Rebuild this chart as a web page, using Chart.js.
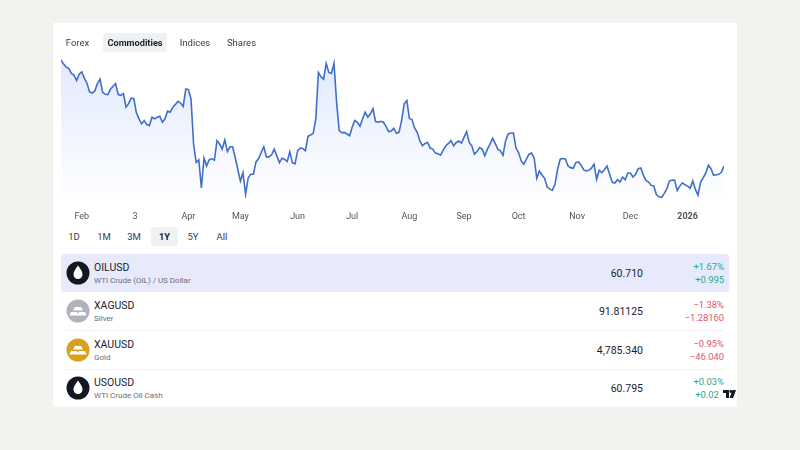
<!DOCTYPE html>
<html>
<head>
<meta charset="utf-8">
<title>Commodities</title>
<script src="https://cdn.jsdelivr.net/npm/chart.js@4"></script>
<style>
    html, body { margin: 0; padding: 0; background: #f2f3ee; }
    body { width: 800px; height: 450px; overflow: hidden; position: relative; font-family: Roboto, sans-serif; color: #1e222d; }
    .card { position: absolute; left: 53px; top: 23px; width: 684px; height: 384px; background: #fff; }
    .pill { position: absolute; font-size: 9.5px; line-height: 20px; height: 19px; text-align: center; color: #3a3d47; border-radius: 3px; }
    .pill.on { background: #f0f1f2; font-size: 9.2px; font-weight: 700; color: #1e222d; }
    #chartBox { position: absolute; left: 0; top: 22px; width: 684px; height: 182px; }
    .row { position: absolute; left: 8px; width: 668px; height: 38px; }
    .row.on { background: #e6eafb; border-radius: 3px; }
    .row .line { position: absolute; left: 5px; right: 5px; bottom: -1px; height: 1px; background: #f0f1f2; }
    .row svg { position: absolute; left: 5px; top: 7px; }
    .sym { position: absolute; left: 33px; top: 7px; font-size: 10.5px; line-height: 14px; }
    .desc { position: absolute; left: 33px; top: 21px; font-size: 8px; line-height: 12px; color: #6a6d78; white-space: nowrap; }
    .quote { position: absolute; right: 86px; top: 13px; font-size: 10.5px; line-height: 14px; }
    .chg { position: absolute; right: 5px; font-size: 9.4px; line-height: 12px; text-align: right; }
    .up { color: #2ba492; }
    .down { color: #e0566a; }
    #tv { position: absolute; left: 666px; top: 361px; width: 18px; height: 20px; background: #fff; border-radius: 6px 0 0 0; }
</style>
</head>
<body>
<div class="card" id="card">
    <div id="chartBox"><canvas id="oilChart"></canvas></div>
</div>
<script>
var marketTabs = ['Forex', 'Commodities', 'Indices', 'Shares'];
var marketTabLeft = [8, 50, 122, 170];
var marketTabWidth = [33, 64, 40, 37];
var rangeTabs = ['1D', '1M', '3M', '1Y', '5Y', 'All'];
var rangeTabLeft = [9, 39, 69, 98, 128, 157];
var rangeTabWidth = [24, 24, 24, 27, 24, 24];

var tickLabels = ['Feb', '3', 'Apr', 'May', 'Jun', 'Jul', 'Aug', 'Sep', 'Oct', 'Nov', 'Dec', '2026'];
var tickDays = [8, 28.5, 49, 69, 91, 112, 134, 155, 176, 198.5, 219, 241];

var prices = [
    81.70, 80.90, 80.30, 80.04, 79.04, 78.70, 77.64, 78.90, 79.36, 78.04, 77.10, 75.36, 75.16, 75.56, 77.04, 77.90,
    75.36, 74.90, 74.84, 75.90, 76.50, 77.04, 74.84, 74.70, 75.04, 72.36, 73.04, 74.16, 74.04, 71.24, 70.04, 69.04,
    69.70, 68.90, 68.70, 70.36, 70.04, 70.36, 70.56, 69.36, 70.04, 71.56, 71.36, 72.36, 72.90, 73.50, 73.16, 72.50,
    75.96, 75.84, 74.04, 65.04, 61.36, 61.90, 56.36, 62.24, 60.70, 61.90, 62.16, 61.84, 65.70, 65.04, 64.04, 65.84,
    63.56, 64.50, 64.50, 62.36, 60.04, 57.70, 59.36, 55.04, 58.36, 59.04, 59.04, 61.50, 62.16, 63.36, 64.50, 62.50,
    62.50, 62.90, 64.04, 62.70, 61.36, 62.24, 62.04, 61.56, 63.50, 61.36, 61.10, 63.70, 64.24, 64.16, 63.70, 66.56,
    66.84, 67.16, 70.04, 79.24, 78.36, 77.90, 81.04, 79.24, 79.04, 81.04, 73.36, 67.70, 67.30, 67.36, 67.04, 66.70,
    68.36, 69.70, 69.36, 68.56, 70.04, 71.36, 70.36, 71.04, 72.04, 69.50, 69.36, 69.56, 69.36, 68.56, 67.50, 67.64,
    68.16, 67.16, 67.36, 69.70, 73.04, 73.70, 70.10, 69.90, 68.24, 67.36, 65.70, 64.70, 65.16, 65.36, 64.24, 64.04,
    63.24, 63.10, 62.84, 63.84, 64.70, 65.16, 65.70, 64.70, 65.36, 65.64, 65.24, 66.36, 67.50, 65.36, 64.70, 63.04,
    63.56, 64.36, 64.04, 62.70, 64.04, 65.04, 66.16, 65.16, 64.04, 63.70, 62.84, 65.70, 67.04, 67.24, 67.24, 64.24,
    63.36, 61.70, 61.04, 62.04, 63.04, 63.24, 62.24, 58.24, 59.70, 58.90, 58.24, 56.50, 56.10, 55.90, 57.04, 60.04,
    62.04, 62.16, 62.10, 60.70, 60.36, 60.24, 61.36, 61.50, 60.90, 59.96, 59.70, 59.84, 60.24, 61.04, 58.04, 59.84,
    59.36, 59.96, 60.70, 59.04, 57.44, 57.30, 57.96, 57.50, 58.50, 57.96, 59.30, 59.30, 58.50, 59.04, 60.16, 60.30,
    58.84, 57.84, 57.50, 56.84, 56.70, 55.04, 54.56, 54.44, 55.24, 56.16, 57.70, 57.90, 57.84, 55.84, 56.70, 57.36,
    56.96, 56.70, 56.30, 57.70, 56.04, 54.90, 57.50, 58.36, 59.30, 60.84, 60.16, 58.84, 58.96, 59.04, 59.44, 60.71
];

var symbols = ['OILUSD', 'XAGUSD', 'XAUUSD', 'USOUSD'];
var names = ['WTI Crude (OIL) / US Dollar', 'Silver', 'Gold', 'WTI Crude Oil Cash'];
var quotes = ['60.710', '91.81125', '4,785.340', '60.795'];
var changePct = ['+1.67%', '\u22121.38%', '\u22120.95%', '+0.03%'];
var changeAbs = ['+0.995', '\u22121.28160', '\u221246.040', '+0.020'];
var logoKinds = ['drop', 'bars', 'bars', 'drop'];
var logoColors = ['#131722', '#b2b2bd', '#d9a01c', '#131722'];

var card = document.getElementById('card');

function addTabs(labels, lefts, widths, top, active) {
    labels.forEach(function (label, i) {
        var tab = document.createElement('div');
        tab.className = 'pill' + (label === active ? ' on' : '');
        tab.style.left = lefts[i] + 'px';
        tab.style.width = widths[i] + 'px';
        tab.style.top = top + 'px';
        tab.textContent = label;
        card.appendChild(tab);
    });
}
addTabs(marketTabs, marketTabLeft, marketTabWidth, 10, 'Commodities');
addTabs(rangeTabs, rangeTabLeft, rangeTabWidth, 204, '1Y');

function logoSvg(kind, color) {
    var inner = kind === 'drop'
        ? '<path d="M12 4.5C9.5 8 7.5 10.5 7.5 13.6a4.5 4.5 0 0 0 9 0C16.5 10.5 14.5 8 12 4.5z" fill="#fff"/>'
        : '<path d="M9 8h6l2 3.6H7zM5 13h6l1.6 3.6H3.4zM13 13h6l1.6 3.6h-9.2z" fill="#fff"/>';
    return '<svg width="24" height="24" viewBox="0 0 24 24"><circle cx="12" cy="12" r="11.5" fill="' + color + '"/>' + inner + '</svg>';
}

symbols.forEach(function (symbol, i) {
    var top = [231, 269, 308, 346][i];
    var dir = changePct[i].charAt(0) === '+' ? 'up' : 'down';
    var row = document.createElement('div');
    row.className = 'row' + (i === 0 ? ' on' : '');
    row.style.top = top + 'px';
    row.innerHTML = logoSvg(logoKinds[i], logoColors[i]) +
        '<div class="sym">' + symbol + '</div>' +
        '<div class="desc">' + names[i] + '</div>' +
        '<div class="quote">' + quotes[i] + '</div>' +
        '<div class="chg ' + dir + '" style="top:7px">' + changePct[i] + '</div>' +
        '<div class="chg ' + dir + '" style="top:20px">' + changeAbs[i] + '</div>' +
        (i === 1 || i === 2 ? '<div class="line"></div>' : '');
    card.appendChild(row);
});

var tv = document.createElement('div');
tv.id = 'tv';
tv.innerHTML = '<svg width="13" height="8" viewBox="0 0 13 8" style="position:absolute;left:4px;top:6px"><path d="M0 0h6v8H3V3H0zM6.5 8L9.5 0H13l-3 8z" fill="#131722"/><circle cx="7.8" cy="1.5" r="1.4" fill="#131722"/></svg>';
card.appendChild(tv);

var lineChart = new Chart(document.getElementById('oilChart'), {
    type: 'line',
    data: {
        labels: prices.map(function (p, i) { return i; }),
        datasets: [{
            label: 'OILUSD',
            data: prices,
            borderColor: '#3f6ecb',
            borderWidth: 1.6,
            pointRadius: 0,
            tension: 0,
            fill: 'start',
            backgroundColor: function (ctx) {
                var area = ctx.chart.chartArea;
                if (!area) return 'rgba(41,98,255,0.1)';
                var grad = ctx.chart.ctx.createLinearGradient(0, area.top, 0, area.bottom);
                grad.addColorStop(0, 'rgba(41,98,255,0.14)');
                grad.addColorStop(1, 'rgba(41,98,255,0.005)');
                return grad;
            }
        }]
    },
    options: {
        responsive: true,
        maintainAspectRatio: false,
        animation: false,
        layout: { padding: { left: 8, right: 13, top: 10, bottom: 0 } },
        plugins: { legend: { display: false }, tooltip: { enabled: false } },
        scales: {
            x: {
                type: 'linear',
                min: 0,
                max: prices.length - 1,
                afterBuildTicks: function (axis) {
                    axis.ticks = tickDays.map(function (d) { return { value: d }; });
                },
                grid: { display: false },
                border: { display: false },
                ticks: {
                    autoSkip: false,
                    maxRotation: 0,
                    padding: 5,
                    color: '#50535e',
                    font: function (ctx) {
                        return { family: 'Roboto, sans-serif', size: 9, weight: ctx.index === 11 ? '700' : '400' };
                    },
                    callback: function (value, index) { return tickLabels[index]; }
                }
            },
            y: { display: false, min: 54.3, max: 82.7 }
        }
    }
});
</script>
</body>
</html>
